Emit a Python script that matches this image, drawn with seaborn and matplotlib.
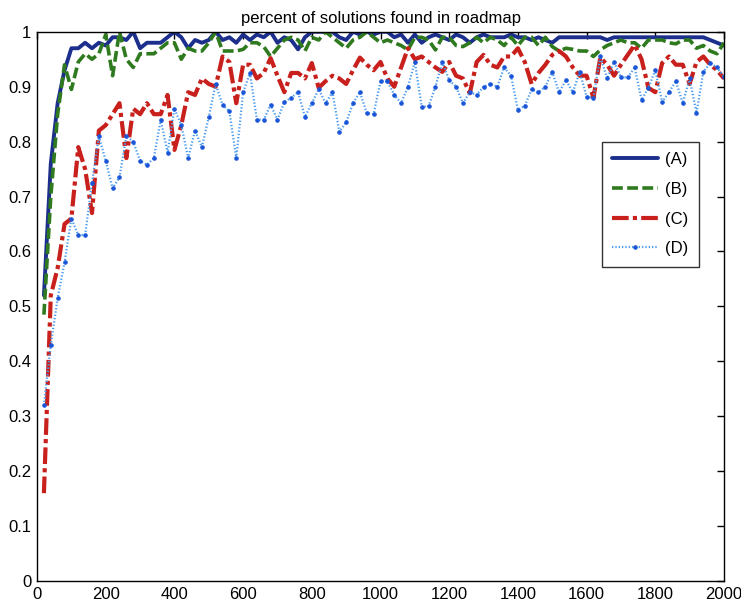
import numpy as np
import pandas as pd
import matplotlib
matplotlib.use("Agg")
import matplotlib.pyplot as plt
import seaborn as sns

title = "percent of solutions found in roadmap"
labels = ["(A)", "(B)", "(C)", "(D)"]
x_vals = list(range(20, 2001, 20))

a_vals = [0.52, 0.76, 0.87, 0.93, 0.97, 0.97, 0.98, 0.97, 0.98, 0.975,
          0.99, 0.99, 0.985, 1.0, 0.97, 0.98, 0.98, 0.98, 0.99, 1.0,
          0.99, 0.97, 0.985, 0.98, 0.985, 1.0, 0.985, 0.99, 0.98, 0.995,
          0.985, 0.995, 0.99, 1.0, 0.98, 0.99, 0.985, 0.968, 0.99, 1.0,
          1.0, 1.0, 1.0, 0.99, 0.985, 1.0, 0.995, 1.0, 0.995, 1.0,
          1.0, 0.99, 0.995, 0.98, 0.995, 0.98, 0.99, 0.995, 0.99, 0.985,
          0.995, 0.99, 0.98, 0.99, 0.995, 0.99, 0.99, 0.99, 0.995, 0.99,
          0.99, 0.985, 0.99, 0.985, 0.98, 0.99, 0.99, 0.99, 0.99, 0.99,
          0.99, 0.99, 0.985, 0.99, 0.99, 0.99, 0.99, 0.99, 0.99, 0.99,
          0.99, 0.99, 0.99, 0.99, 0.99, 0.99, 0.99, 0.985, 0.98, 0.975]

b_vals = [0.485, 0.70, 0.85, 0.94, 0.895, 0.945, 0.96, 0.95, 0.96, 0.995,
          0.92, 1.0, 0.95, 0.935, 0.96, 0.96, 0.96, 0.97, 0.98, 0.98,
          0.95, 0.97, 0.965, 0.965, 0.98, 1.0, 0.965, 0.965, 0.965, 0.968,
          0.98, 0.98, 0.973, 0.955, 0.97, 0.985, 0.99, 0.985, 0.965, 0.99,
          0.985, 1.0, 0.99, 0.98, 0.97, 0.985, 0.99, 1.0, 0.99, 0.98,
          0.985, 0.98, 0.975, 0.967, 0.99, 0.99, 0.985, 0.967, 0.99, 0.99,
          0.975, 0.973, 0.98, 0.99, 0.98, 0.99, 0.985, 0.975, 0.99, 0.975,
          0.99, 0.99, 0.975, 0.99, 0.973, 0.965, 0.97, 0.968, 0.965, 0.965,
          0.955, 0.967, 0.975, 0.98, 0.985, 0.98, 0.98, 0.97, 0.985, 0.985,
          0.985, 0.98, 0.978, 0.985, 0.985, 0.97, 0.975, 0.965, 0.96, 0.98]

c_vals = [0.16, 0.52, 0.57, 0.65, 0.66, 0.79, 0.75, 0.67, 0.82, 0.83,
          0.85, 0.87, 0.77, 0.86, 0.85, 0.87, 0.85, 0.85, 0.885, 0.785,
          0.83, 0.89, 0.885, 0.915, 0.905, 0.90, 0.955, 0.945, 0.87, 0.94,
          0.94, 0.915, 0.925, 0.952, 0.92, 0.89, 0.925, 0.925, 0.915, 0.943,
          0.898, 0.91, 0.92, 0.915, 0.905, 0.93, 0.953, 0.94, 0.93, 0.945,
          0.915, 0.90, 0.935, 0.97, 0.95, 0.955, 0.945, 0.935, 0.927, 0.945,
          0.92, 0.915, 0.888, 0.945, 0.958, 0.94, 0.935, 0.955, 0.955, 0.97,
          0.945, 0.905, 0.925, 0.94, 0.958, 0.965, 0.955, 0.935, 0.92, 0.92,
          0.88, 0.953, 0.94, 0.92, 0.94, 0.958, 0.976, 0.95, 0.898, 0.89,
          0.943, 0.955, 0.94, 0.94, 0.905, 0.945, 0.955, 0.94, 0.93, 0.915]

d_vals = [0.32, 0.43, 0.515, 0.58, 0.66, 0.63, 0.63, 0.725, 0.81, 0.765,
          0.715, 0.735, 0.81, 0.80, 0.765, 0.758, 0.77, 0.84, 0.78, 0.86,
          0.83, 0.77, 0.82, 0.79, 0.845, 0.905, 0.867, 0.855, 0.77, 0.89,
          0.925, 0.84, 0.84, 0.867, 0.84, 0.872, 0.88, 0.89, 0.845, 0.87,
          0.895, 0.87, 0.89, 0.818, 0.835, 0.87, 0.89, 0.852, 0.85, 0.91,
          0.91, 0.885, 0.87, 0.90, 0.945, 0.863, 0.865, 0.90, 0.945, 0.912,
          0.90, 0.87, 0.89, 0.885, 0.90, 0.905, 0.90, 0.935, 0.92, 0.858,
          0.865, 0.895, 0.89, 0.90, 0.927, 0.89, 0.912, 0.89, 0.927, 0.882,
          0.88, 0.955, 0.915, 0.945, 0.917, 0.917, 0.935, 0.876, 0.898, 0.93,
          0.872, 0.89, 0.91, 0.87, 0.915, 0.852, 0.927, 0.943, 0.935, 0.918]

x_ticks = [0, 200, 400, 600, 800, 1000, 1200, 1400, 1600, 1800, 2000]
y_ticks = [0, 0.1, 0.2, 0.3, 0.4, 0.5, 0.6, 0.7, 0.8, 0.9, 1]
y_ticklabels = ["0", "0.1", "0.2", "0.3", "0.4", "0.5", "0.6", "0.7", "0.8", "0.9", "1"]

sns.set_style("white")
plt.rcParams['font.family'] = ['Liberation Sans', 'DejaVu Sans']
plt.rcParams['text.color'] = 'black'
plt.rcParams['axes.titlecolor'] = 'black'

fig = plt.figure(figsize=(7.41, 6.11), dpi=100)
ax = fig.add_axes([0.050, 0.049, 0.927, 0.899])

styles = [
    dict(color="#1c2f8c", linestyle="-", linewidth=2.8),
    dict(color="#2f7a1f", linestyle=(0, (3.0, 1.2)), linewidth=2.6),
    dict(color="#c8201c", linestyle=(0, (4.0, 1.0, 1.0, 1.0)), linewidth=3.0),
    dict(color="#4a9cf0", linestyle=(0, (0.6, 0.9)), linewidth=1.6,
         marker=".", markersize=5, markerfacecolor="#1a55d8", markeredgecolor="#1a55d8"),
]
series = [a_vals, b_vals, c_vals, d_vals]
for lab, vals, st in zip(labels, series, styles):
    df = pd.DataFrame({"x": x_vals, "y": vals})
    sns.lineplot(data=df, x="x", y="y", ax=ax, label=lab, **st)

ax.set_xlim(0, 2000)
ax.set_ylim(0, 1)
ax.set_xticks(x_ticks)
ax.set_xticklabels([str(t) for t in x_ticks])
ax.set_yticks(y_ticks)
ax.set_yticklabels(y_ticklabels)
ax.set_xlabel("")
ax.set_ylabel("")
ax.tick_params(direction="in", length=5, width=1, top=True, right=True,
               labelsize=12, colors="black", pad=4)
for sp in ax.spines.values():
    sp.set_visible(True)
    sp.set_color("black")
    sp.set_linewidth(1.0)
ax.set_title(title, fontsize=12, pad=6, color="black")

leg = ax.legend(loc="upper right", bbox_to_anchor=(0.9636, 0.7996), borderaxespad=0,
                fontsize=12, handlelength=2.75, frameon=True, fancybox=False,
                edgecolor="black", borderpad=0.62, labelspacing=0.88, handletextpad=0.45)
leg.get_frame().set_linewidth(1.0)
for t in leg.get_texts():
    t.set_color("black")

fig.savefig("out.png", dpi=100, facecolor="white")
